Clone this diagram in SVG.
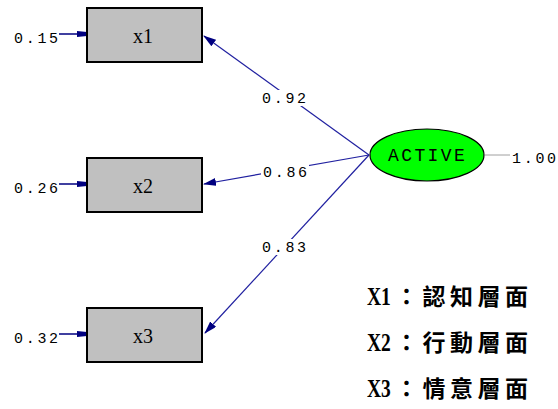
<svg xmlns="http://www.w3.org/2000/svg" width="558" height="409" viewBox="0 0 558 409">
  <style>
    .box { fill: #c0c0c0; stroke: #000; stroke-width: 2; }
    .lat { fill: #00ff00; stroke: #000; stroke-width: 1.2; }
    .path { stroke: #2020a0; stroke-width: 1.2; fill: none; }
    .err { stroke: #000080; stroke-width: 1.5; fill: none; }
    .num { font-family: "Liberation Mono", "DejaVu Sans Mono", monospace; font-size: 15px; fill: #000; letter-spacing: 2.7px; }
    .var { font-family: "Liberation Serif", serif; font-size: 20px; fill: #000; text-anchor: middle; }
    .latt { font-family: "Liberation Mono", monospace; font-size: 18px; fill: #000; letter-spacing: 2.4px; }
    .leg { font-family: "Liberation Serif", "Noto Sans CJK TC", serif; font-size: 26px; font-weight: bold; fill: #000; }
    .cjk { font-family: "Noto Sans CJK TC", sans-serif; font-size: 23px; font-weight: bold; fill: #000; letter-spacing: 4.5px; }
  </style>
  <defs>
    <marker id="ah" markerWidth="13" markerHeight="8" refX="12" refY="4" orient="auto" markerUnits="userSpaceOnUse">
      <path d="M0,0 L13,4 L0,8 Z" fill="#000080"/>
    </marker>
    <marker id="eh" markerWidth="10" markerHeight="6" refX="10" refY="3" orient="auto" markerUnits="userSpaceOnUse">
      <path d="M0,0 L10,1 L10,5 L0,6 Z" fill="#000080"/>
    </marker>
  </defs>

  <g id="connectors">
    <line class="path" x1="369" y1="155" x2="204" y2="36" marker-end="url(#ah)"/>
    <line class="path" x1="369" y1="155" x2="204" y2="184" marker-end="url(#ah)"/>
    <line class="path" x1="369" y1="155" x2="205" y2="333" marker-end="url(#ah)"/>
    <line class="err" x1="59" y1="34" x2="87" y2="34" marker-end="url(#eh)"/>
    <line class="err" x1="59" y1="184" x2="87" y2="184" marker-end="url(#eh)"/>
    <line class="err" x1="59" y1="334" x2="87" y2="334" marker-end="url(#eh)"/>
    <line x1="485" y1="155" x2="510" y2="155" stroke="#a0a0a0" stroke-width="1"/>
    <rect x="260" y="90" width="48" height="16" fill="#fff"/>
    <rect x="261" y="164" width="48" height="16" fill="#fff"/>
    <rect x="260" y="239" width="48" height="16" fill="#fff"/>
    <text class="num" x="262" y="103">0.92</text>
    <text class="num" x="263" y="177">0.86</text>
    <text class="num" x="262" y="252">0.83</text>
  </g>

  <g id="x1">
    <rect class="box" x="87" y="8" width="115" height="54"/>
    <text class="var" x="143" y="43">x1</text>
    <text class="num" x="14" y="43">0.15</text>
  </g>
  <g id="x2">
    <rect class="box" x="87" y="158" width="115" height="54"/>
    <text class="var" x="143" y="193">x2</text>
    <text class="num" x="14" y="193">0.26</text>
  </g>
  <g id="x3">
    <rect class="box" x="87" y="308" width="115" height="54"/>
    <text class="var" x="143" y="343">x3</text>
    <text class="num" x="14" y="343">0.32</text>
  </g>
  <g id="active">
    <ellipse class="lat" cx="427" cy="155" rx="57" ry="26"/>
    <text class="latt" x="388" y="161">ACTIVE</text>
    <text class="num" x="512" y="163">1.00</text>
  </g>

  <g id="legend">
    <!-- condensed Latin labels -->
    <text class="leg" transform="translate(367,305) scale(0.75,1)">X1</text>
    <text class="cjk" x="395" y="305">：認知層面</text>
    <text class="leg" transform="translate(367,351) scale(0.75,1)">X2</text>
    <text class="cjk" x="395" y="351">：行動層面</text>
    <text class="leg" transform="translate(367,397) scale(0.75,1)">X3</text>
    <text class="cjk" x="395" y="397">：情意層面</text>
  </g>
</svg>
